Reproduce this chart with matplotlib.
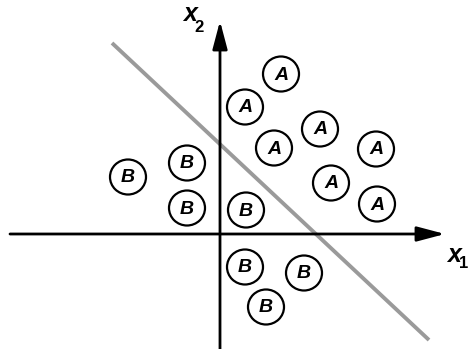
import matplotlib.pyplot as plt
from matplotlib.patches import Ellipse

# class A and class B samples (feature space x1, x2)
a_x = [3.05, 1.25, 5.0, 2.7, 7.8, 5.55, 7.85]
a_y = [8.0, 6.35, 5.25, 4.3, 4.25, 2.55, 1.5]
b_x = [-4.6, -1.65, -1.65, 1.3, 1.25, 4.2, 2.3]
b_y = [2.85, 3.55, 1.3, 1.2, -1.65, -1.95, -3.65]

# decision boundary endpoints
boundary_x = [-5.4, 10.45]
boundary_y = [9.55, -5.3]

fig = plt.figure(figsize=(4.72, 3.49), dpi=100)
ax = fig.add_axes([0, 0, 1, 1])
ax.set_xlim(-11, 12.6)
ax.set_ylim(-5.75, 11.7)
ax.set_aspect("equal")
ax.axis("off")

# axes with arrows
arrow = dict(arrowstyle="-|>,head_length=1.7,head_width=0.45", color="black",
             lw=2.0, shrinkA=0, shrinkB=0, mutation_scale=10)
ax.annotate("", xy=(11.25, 0), xytext=(-10.5, 0), arrowprops=arrow)
ax.annotate("", xy=(0, 10.65), xytext=(0, -5.8), arrowprops=arrow)

ax.plot(boundary_x, boundary_y, color="#9a9a9a", lw=2.8, solid_capstyle="butt")

font = ["Liberation Sans", "DejaVu Sans"]


def draw_points(xs, ys, label):
    for x, y in zip(xs, ys):
        ax.add_patch(Ellipse((x, y), 1.8, 1.75, fill=True, facecolor="white",
                             edgecolor="black", lw=1.6, zorder=3))
        ax.text(x, y - 0.05, label, ha="center", va="center", fontsize=14,
                fontweight="bold", fontstyle="italic", family=font, zorder=4)


draw_points(a_x, a_y, "A")
draw_points(b_x, b_y, "B")

# axis labels
ax.text(-1.5, 11.0, "x", ha="center", va="center", fontsize=18,
        fontweight="bold", fontstyle="italic", family=font)
ax.text(-1.05, 10.3, "2", ha="center", va="center", fontsize=12,
        fontweight="bold", family=font)
ax.text(11.7, -1.05, "x", ha="center", va="center", fontsize=18,
        fontweight="bold", fontstyle="italic", family=font)
ax.text(12.2, -1.45, "1", ha="center", va="center", fontsize=12,
        fontweight="bold", family=font)

fig.savefig("out.png", dpi=100, facecolor="white")
